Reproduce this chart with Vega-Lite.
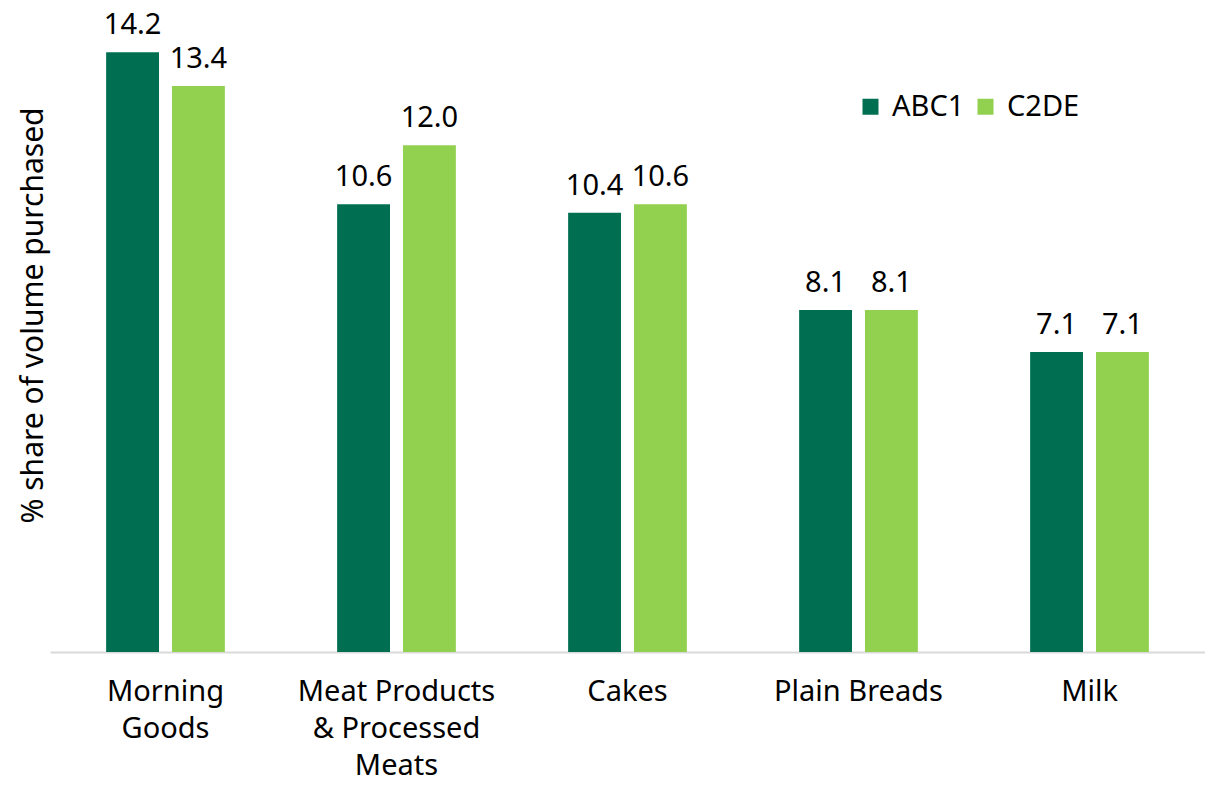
{
  "$schema": "https://vega.github.io/schema/vega-lite/v6.json",
  "autosize": "none",
  "width": 1155,
  "height": 642,
  "padding": {"left": 50, "top": 10, "right": 0, "bottom": 133},
  "background": "white",
  "config": {"view": {"stroke": null}, "font": "Noto Sans"},
  "data": {"values": [
    {"category": "Morning|Goods", "group": "ABC1", "value": 14.2},
    {"category": "Morning|Goods", "group": "C2DE", "value": 13.4},
    {"category": "Meat Products|& Processed|Meats", "group": "ABC1", "value": 10.6},
    {"category": "Meat Products|& Processed|Meats", "group": "C2DE", "value": 12.0},
    {"category": "Cakes", "group": "ABC1", "value": 10.4},
    {"category": "Cakes", "group": "C2DE", "value": 10.6},
    {"category": "Plain Breads", "group": "ABC1", "value": 8.1},
    {"category": "Plain Breads", "group": "C2DE", "value": 8.1},
    {"category": "Milk", "group": "ABC1", "value": 7.1},
    {"category": "Milk", "group": "C2DE", "value": 7.1}
  ]},
  "encoding": {
    "x": {"field": "category", "type": "nominal", "sort": null,
      "scale": {"paddingInner": 0.486, "paddingOuter": 0.243},
      "axis": {"title": null, "labelAngle": 0, "labelExpr": "split(datum.value, '|')", "labelLimit": 0,
        "labelFontSize": 29, "labelColor": "#000000", "labelFont": "Noto Sans", "labelLineHeight": 37,
        "labelPadding": 25, "ticks": false, "domainColor": "#d9d9d9", "domainWidth": 2, "labelBaseline": "top"}},
    "xOffset": {"field": "group", "type": "nominal", "scale": {"paddingInner": 0.197, "paddingOuter": 0}},
    "y": {"field": "value", "type": "quantitative", "scale": {"domain": [0, 15.2], "nice": false},
      "axis": {"title": "% share of volume purchased", "titleFontSize": 30, "titleFont": "Noto Sans", "titleFontWeight": "normal", "titleColor": "#000000",
        "labels": false, "ticks": false, "domain": false, "grid": false, "titleX": -17, "titleY": 305, "titleBaseline": "middle", "titlePadding": 0}},
    "color": {"field": "group", "type": "nominal",
      "scale": {"domain": ["ABC1", "C2DE"], "range": ["#006F51", "#92D050"]},
      "legend": {"title": null, "orient": "none", "legendX": 806, "legendY": 82, "direction": "horizontal",
        "symbolType": "square", "symbolSize": 256, "symbolStrokeWidth": 0, "labelFontSize": 29, "labelFont": "Noto Sans", "labelColor": "#000000",
        "labelOffset": 7, "columnPadding": 6}}
  },
  "layer": [
    {"mark": {"type": "bar"}},
    {"mark": {"type": "text", "baseline": "alphabetic", "dy": -18, "fontSize": 29, "font": "Noto Sans", "color": "#000000"},
      "encoding": {"text": {"field": "value", "type": "quantitative", "format": ".1f"}, "color": {"value": "#000000"}}}
  ]
}
